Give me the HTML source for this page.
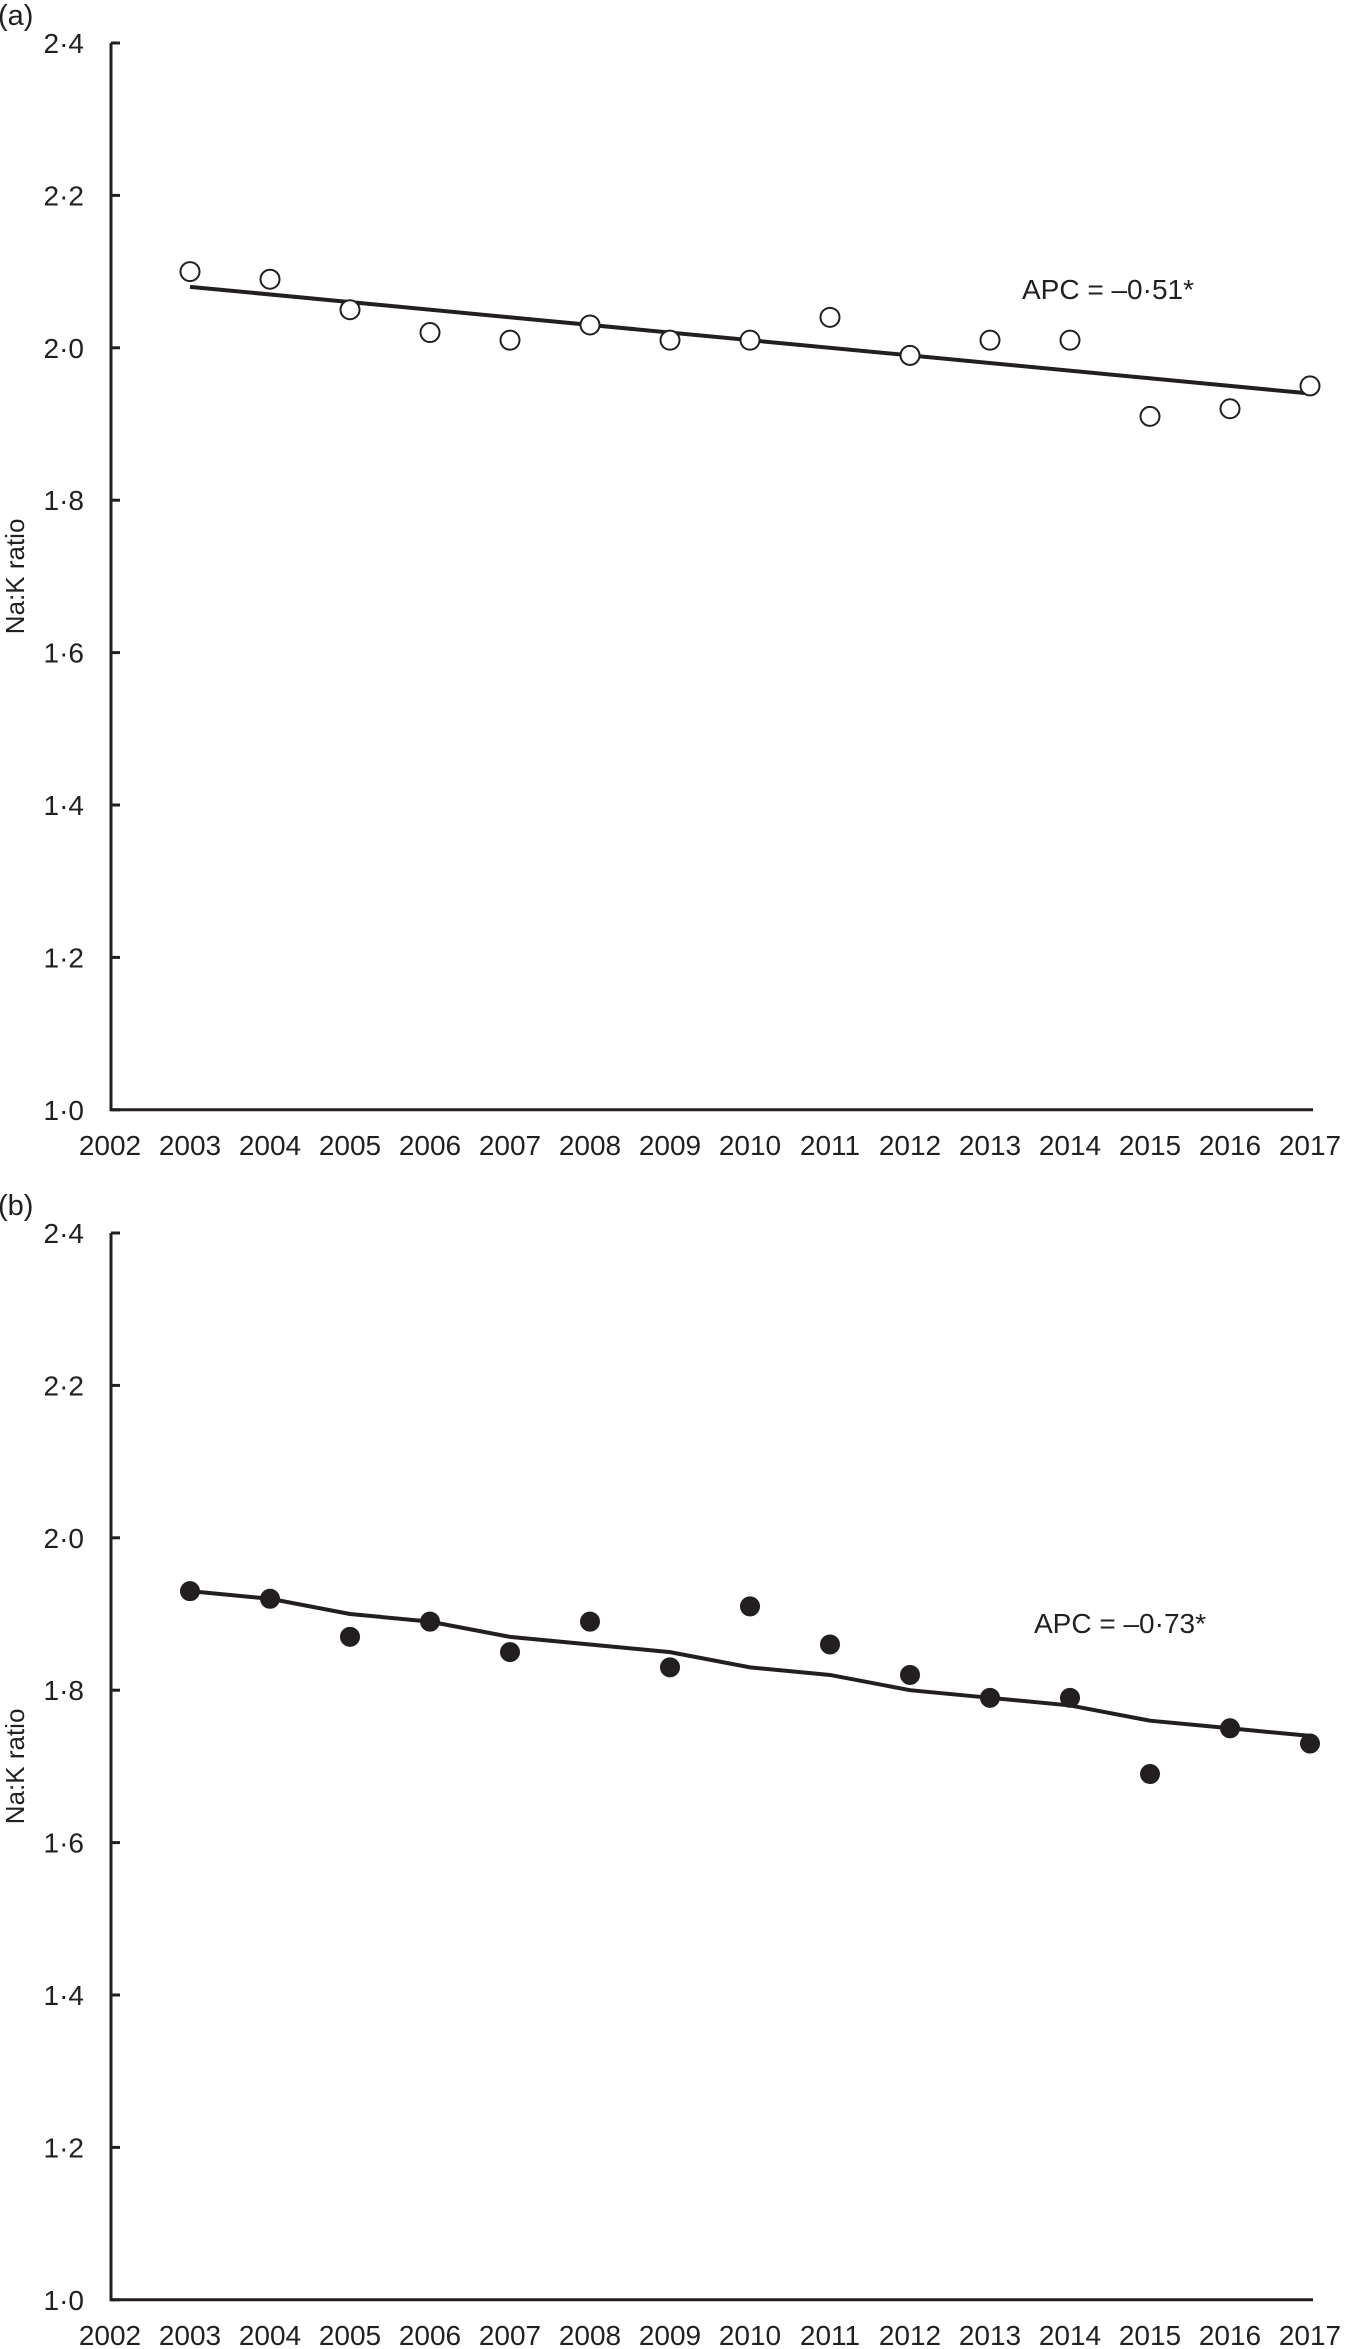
<!DOCTYPE html>
<html><head><meta charset="utf-8"><style>
body{margin:0;background:#fff}
svg{display:block}
text{font-family:"Liberation Sans",sans-serif;fill:#231f20}
</style></head><body>
<svg id="s" width="1345" height="2349" viewBox="0 0 1345 2349" xmlns="http://www.w3.org/2000/svg"></svg>
<script>
const s=document.getElementById('s');let h='';
const X=y=>110+(y-2002)*80;
function panel(top,label,dots,line,filled,apc,ax,ay){
 const Y=v=>top+(2.4-v)*762;
 const bot=Y(1.0);
 h+=`<text x="-2" y="${top-18}" font-size="29">${label}</text>`;
 h+=`<path d="M111 ${top}V${bot}H1313" fill="none" stroke="#231f20" stroke-width="3"/>`;
 for(let i=0;i<=7;i++){const v=1+i*0.2,y=Y(v);
  h+=`<line x1="111" x2="120" y1="${y}" y2="${y}" stroke="#231f20" stroke-width="3"/>`;
  h+=`<text x="84" y="${y+10}" font-size="28" text-anchor="end">${v.toFixed(1).replace('.','·')}</text>`;}
 for(let yr=2002;yr<=2017;yr++)h+=`<text x="${X(yr)}" y="${bot+45}" font-size="28" text-anchor="middle">${yr}</text>`;
 h+=`<text transform="translate(24 ${Y(1.7)}) rotate(-90)" font-size="26" text-anchor="middle">Na:K ratio</text>`;
 h+=`<polyline points="${line.map((v,i)=>X(2003+i)+','+Y(v)).join(' ')}" fill="none" stroke="#231f20" stroke-width="4"/>`;
 dots.forEach((v,i)=>{h+=`<circle cx="${X(2003+i)}" cy="${Y(v)}" r="${filled?9:9.5}" fill="${filled?'#231f20':'#fff'}" stroke="#231f20" stroke-width="2"/>`});
 h+=`<text x="${ax}" y="${ay}" font-size="28">${apc}</text>`;
}
panel(43,'(a)',[2.10,2.09,2.05,2.02,2.01,2.03,2.01,2.01,2.04,1.99,2.01,2.01,1.91,1.92,1.95],[2.08,1.94],false,'APC = –0·51*',1022,299);
panel(1233,'(b)',[1.93,1.92,1.87,1.89,1.85,1.89,1.83,1.91,1.86,1.82,1.79,1.79,1.69,1.75,1.73],[1.93,1.92,1.90,1.89,1.87,1.86,1.85,1.83,1.82,1.80,1.79,1.78,1.76,1.75,1.74],true,'APC = –0·73*',1034,1633);
h=h.replace(/<polyline points="190,[0-9.]+ 270,[0-9.]+"/,()=>{const Y=v=>43+(2.4-v)*762;return `<polyline points="190,${Y(2.08)} 1310,${Y(1.94)}"`});
s.innerHTML=h;
</script>
</body></html>
